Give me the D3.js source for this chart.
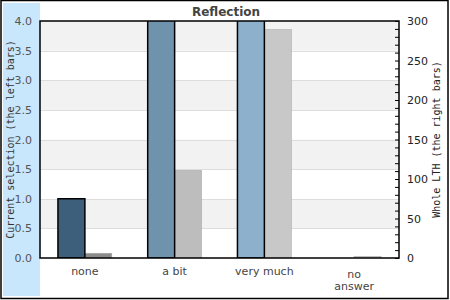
<!DOCTYPE html>
<html>
<head>
<meta charset="utf-8">
<script src="https://cdn.jsdelivr.net/npm/d3@7"></script>
<style>
body { margin: 0; background: #fff; }
svg text { font-family: "DejaVu Sans", sans-serif; }
.mono { font-family: "DejaVu Sans Mono", monospace; }
</style>
</head>
<body>
<div id="chart"></div>
<script>
// data
var categories = ["none", "a bit", "very much", "no answer"];
var selectionValues = [1, 6, 9, 0];       // left bars, left axis (a bit / very much go off the top)
var wholeValues = [6, 111, 289, 2];       // right bars, right axis
var leftTicks = [0, 0.5, 1, 1.5, 2, 2.5, 3, 3.5, 4];
var rightTicks = [0, 50, 100, 150, 200, 250, 300];
var leftColors = ["#3e5f7b", "#7093ad", "#8db0cc", "#a9c7de"];
var rightColors = ["#8c8c8c", "#bdbdbd", "#c8c8c8", "#c8c8c8"];

var W = 450, H = 300;
var svg = d3.select("#chart").append("svg").attr("width", W).attr("height", H);

var margin = {top: 21, right: 51, bottom: 42, left: 40};
var width = W - margin.left - margin.right;
var height = H - margin.top - margin.bottom;

// left blue panel + outer frame
svg.append("rect").attr("x", 3).attr("y", 3).attr("width", 37).attr("height", 293).attr("fill", "#c8e6fc");
svg.append("rect").attr("x", 1).attr("y", 0.5).attr("width", 447).attr("height", 298)
    .attr("fill", "none").attr("stroke", "#000").attr("stroke-width", 1.5);

svg.append("text").attr("x", 226).attr("y", 16).attr("text-anchor", "middle")
    .attr("font-size", 12).attr("font-weight", "bold").attr("fill", "#444").text("Reflection");

var x = d3.scaleBand().domain(categories).range([0, width]).padding(0);
var yL = d3.scaleLinear().domain([0, 4]).range([height, 0]);
var yR = d3.scaleLinear().domain([0, 300]).range([height, 0]);

var g = svg.append("g").attr("transform", "translate(" + margin.left + "," + margin.top + ")");

svg.append("clipPath").attr("id", "plotclip").append("rect")
    .attr("width", width).attr("height", height);

// alternating bands, top one grey
g.selectAll(".band")
    .data(leftTicks.slice(0, -1))
    .enter().append("rect")
    .attr("x", 0)
    .attr("y", function (d) { return yL(d + 0.5); })
    .attr("width", width)
    .attr("height", function (d) { return yL(d) - yL(d + 0.5); })
    .attr("fill", function (d, i) { return i % 2 == 1 ? "#f2f2f2" : "#fff"; });

g.selectAll(".grid")
    .data(leftTicks.slice(1, -1))
    .enter().append("line")
    .attr("x1", 0).attr("x2", width)
    .attr("y1", function (d) { return Math.round(yL(d)) + 0.5; })
    .attr("y2", function (d) { return Math.round(yL(d)) + 0.5; })
    .attr("stroke", "#dddddd");

var bw = x.bandwidth() * 0.3;
var bars = g.append("g").attr("clip-path", "url(#plotclip)");

bars.selectAll(".rbar")
    .data(wholeValues)
    .enter().append("rect")
    .attr("x", function (d, i) { return x(categories[i]) + x.bandwidth() / 2; })
    .attr("y", function (d) { return yR(d); })
    .attr("width", bw)
    .attr("height", function (d) { return height - yR(d); })
    .attr("fill", function (d, i) { return rightColors[i]; })
    .attr("stroke", "#aaa").attr("stroke-width", 0.6);

bars.selectAll(".lbar")
    .data(selectionValues)
    .enter().append("rect")
    .filter(function (d) { return d > 0; })
    .attr("x", function (d) { return x(categories[selectionValues.indexOf(d)]) + x.bandwidth() / 2 - bw; })
    .attr("y", function (d) { return yL(d); })
    .attr("width", bw)
    .attr("height", function (d) { return height - yL(d); })
    .attr("fill", function (d) { return leftColors[selectionValues.indexOf(d)]; })
    .attr("stroke", "#000").attr("stroke-width", 1.5);

g.append("rect").attr("width", width).attr("height", height)
    .attr("fill", "none").attr("stroke", "#000").attr("stroke-width", 1.5);

// left axis
var axL = g.append("g").call(d3.axisLeft(yL).tickValues(leftTicks).tickFormat(d3.format(".1f")).tickSize(0).tickPadding(8));
axL.select(".domain").remove();
axL.selectAll("text").attr("font-size", 11).attr("fill", "#555").attr("font-family", "DejaVu Sans");

// right axis: minor ticks every 10 inside, labels every 50
var axR = g.append("g").attr("transform", "translate(" + width + ",0)")
    .call(d3.axisRight(yR).tickValues(d3.range(0, 301, 10)).tickSize(-4).tickPadding(8)
        .tickFormat(function (d) { return rightTicks.indexOf(d) >= 0 ? d : ""; }));
axR.select(".domain").remove();
axR.selectAll("line").attr("stroke", "#000");
axR.selectAll("text").attr("font-size", 11).attr("fill", "#222").attr("font-family", "DejaVu Sans");

// x labels
categories.forEach(function (c) {
    var cx = margin.left + x(c) + x.bandwidth() / 2;
    var t = svg.append("text").attr("text-anchor", "middle")
        .attr("font-size", 11).attr("fill", "#444");
    var words = c == "no answer" ? ["no", "answer"] : [c];
    t.attr("y", words.length > 1 ? 278 : 275);
    words.forEach(function (w, i) {
        t.append("tspan").attr("x", cx).attr("dy", i == 0 ? 0 : 12).text(w);
    });
});

// axis titles
svg.append("text").attr("class", "mono")
    .attr("transform", "translate(14," + (margin.top + height / 2) + ") rotate(-90)")
    .attr("text-anchor", "middle").attr("font-size", 10).attr("fill", "#333")
    .text("Current selection (the left bars)");
svg.append("text").attr("class", "mono")
    .attr("transform", "translate(440," + (margin.top + height / 2) + ") rotate(-90)")
    .attr("text-anchor", "middle").attr("font-size", 10).attr("fill", "#222")
    .text("Whole LTH (the right bars)");
</script>
</body>
</html>
